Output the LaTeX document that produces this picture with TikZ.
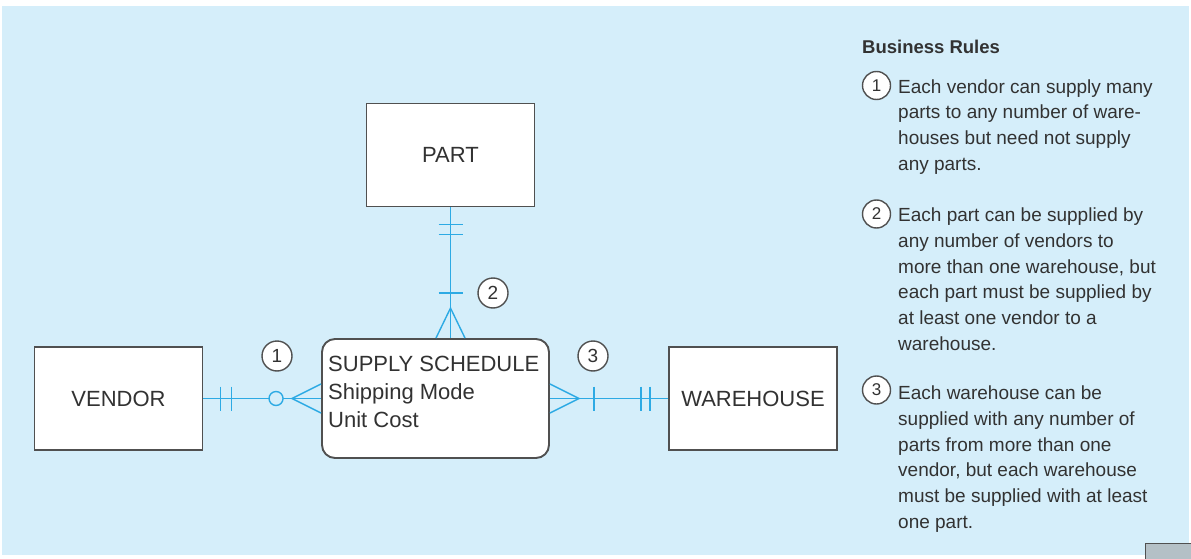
\documentclass[tikz,border=0pt]{standalone}
\usepackage{fontspec}
\setmainfont{Liberation Sans}
\usetikzlibrary{calc}
\definecolor{bgblue}{RGB}{213,238,250}
\definecolor{relblue}{RGB}{45,170,228}
\definecolor{boxgray}{RGB}{80,80,80}
\definecolor{txt}{RGB}{50,50,50}
\definecolor{tabgray}{RGB}{180,192,198}
\begin{document}
\begin{tikzpicture}[x=1pt,y=-1pt,
  entity/.style={draw=boxgray,fill=white,line width=1.9pt,minimum width=168pt,minimum height=103pt,inner sep=0pt,font=\fontsize{22}{26}\selectfont,text=txt},
  sched/.style={draw=boxgray,fill=white,line width=1.9pt,rounded corners=13pt,minimum width=227pt,minimum height=119pt,inner sep=0pt},
  attr/.style={anchor=base west,inner sep=0pt,font=\fontsize{22}{26}\selectfont,text=txt},
  rel/.style={draw=relblue,line width=1.4pt},
  numc/.style={circle,draw=boxgray,fill=white,line width=1.4pt,minimum size=30pt,inner sep=0pt,font=\fontsize{19}{19}\selectfont,text=txt},
  rnumc/.style={numc,minimum size=28pt,font=\fontsize{17}{17}\selectfont},
  rule/.style={anchor=base west,align=left,inner sep=0pt,font=\fontsize{19}{25.8}\selectfont,text=txt},
  title/.style={anchor=base west,inner sep=0pt,font=\fontsize{18.5}{22}\selectfont\bfseries,text=txt}
]
\useasboundingbox (0,0) rectangle (1191,559);
\fill[white] (0,0) rectangle (1191,559);
\fill[bgblue] (2,6) rectangle (1189,555);
\fill[tabgray] (1145,543) rectangle (1191,559);
\draw[boxgray,line width=1pt] (1145,559) -- (1145,543) -- (1191,543);

% entities
\node[entity] (part) at (450.5,155) {PART};
\node[entity] (vendor) at (118.5,398.5) {VENDOR};
\node[entity] (wh) at (753,398.5) {WAREHOUSE};
\node[sched] (ss) at (435.5,398.5) {};
\node[attr] (a1) at (328,371.5) {SUPPLY SCHEDULE};
\node[attr] (a2) at (328,399) {Shipping Mode};
\node[attr] (a3) at (328,427) {Unit Cost};

% connectors
\draw[rel] (part.south) -- (part.south |- ss.north);
\draw[rel] (vendor.east) -- (ss.west);
\draw[rel] (ss.east) -- (wh.west);

% PART end: mandatory one
\draw[rel] ($(part.south)+(-12,17)$) -- ++(24,0);
\draw[rel] ($(part.south)+(-12,27)$) -- ++(24,0);
% SUPPLY end (top): mandatory many
\draw[rel] ($(part.south |- ss.north)+(-12,-45)$) -- ++(24,0);
\draw[rel] ($(part.south |- ss.north)+(-14.5,0)$) -- ($(part.south |- ss.north)+(0,-30)$) -- ($(part.south |- ss.north)+(14.5,0)$);

% VENDOR end: mandatory one
\draw[rel] ($(vendor.east)+(17,-12)$) -- ++(0,24);
\draw[rel] ($(vendor.east)+(28,-12)$) -- ++(0,24);
% SUPPLY end (left): optional many
\draw[rel,fill=bgblue] ($(ss.west)+(-45,0)$) circle (7pt);
\draw[rel] ($(ss.west)+(0,-14.5)$) -- ($(ss.west)+(-29,0)$) -- ($(ss.west)+(0,14.5)$);

% SUPPLY end (right): mandatory many
\draw[rel] ($(ss.east)+(0,-14.5)$) -- ($(ss.east)+(29,0)$) -- ($(ss.east)+(0,14.5)$);
\draw[rel] ($(ss.east)+(44,-12)$) -- ++(0,24);
% WAREHOUSE end: mandatory one
\draw[rel] ($(wh.west)+(-27,-12)$) -- ++(0,24);
\draw[rel] ($(wh.west)+(-18,-12)$) -- ++(0,24);

% rule markers in diagram
\node[numc] (n1) at (277,356) {1};
\node[numc] (n2) at (493,293) {2};
\node[numc] (n3) at (593,356) {3};

% business rules (base anchor = baseline of last line)
\node[title] (bt) at (862,53.5) {Business Rules};
\node[rnumc] (c1) at (876.5,85.5) {1};
\node[rule] (r1) at (898,170.4) {Each vendor can supply many\\parts to any number of ware-\\houses but need not supply\\any parts.};
\node[rnumc] (c2) at (876.5,214) {2};
\node[rule] (r2) at (898,350.5) {Each part can be supplied by\\any number of vendors to\\more than one warehouse, but\\each part must be supplied by\\at least one vendor to a\\warehouse.};
\node[rnumc] (c3) at (876.5,390) {3};
\node[rule] (r3) at (898,528.5) {Each warehouse can be\\supplied with any number of\\parts from more than one\\vendor, but each warehouse\\must be supplied with at least\\one part.};
\end{tikzpicture}
\end{document}
